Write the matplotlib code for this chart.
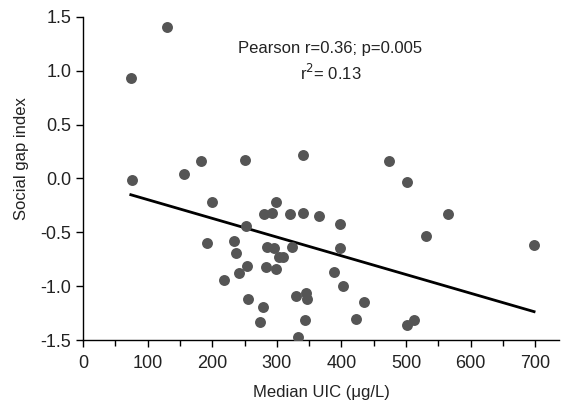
import matplotlib.pyplot as plt
from matplotlib.ticker import MultipleLocator

plt.rcParams['font.family'] = ['Liberation Sans', 'DejaVu Sans']

# median UIC (ug/L) per country and social gap index
uic = [130, 74, 76, 156, 182, 251, 341,
       199, 299, 280, 293, 321, 340, 365, 398, 252, 192, 233, 237, 285,
       295, 324, 398, 303, 310, 254, 241, 283, 298, 218, 388, 403, 255,
       330, 345, 346, 435, 279, 274, 344, 422, 333,
       473, 501, 565, 531, 698, 502, 512]
gap = [1.41, 0.93, -0.01, 0.04, 0.16, 0.17, 0.22,
       -0.22, -0.22, -0.33, -0.32, -0.33, -0.32, -0.35, -0.42, -0.44, -0.60, -0.58, -0.69, -0.64,
       -0.65, -0.64, -0.65, -0.73, -0.73, -0.81, -0.88, -0.82, -0.84, -0.94, -0.87, -1.00, -1.12,
       -1.09, -1.06, -1.12, -1.15, -1.19, -1.33, -1.31, -1.30, -1.47,
       0.16, -0.03, -0.33, -0.53, -0.62, -1.36, -1.31]

# fitted regression line
slope = -0.001739
intercept = -0.0226

fig = plt.figure(figsize=(5.63, 4.01), dpi=100)
ax = fig.add_axes([0.1474, 0.152, 0.846, 0.806])

ax.scatter(uic, gap, s=62, color='#555555', zorder=3, linewidths=0)
x0, x1 = min(uic), max(uic)
ax.plot([x0, x1], [intercept + slope * x0, intercept + slope * x1],
        color='black', lw=2, zorder=2)

ax.set_xlim(0, 737)
ax.set_ylim(-1.5, 1.5)
ax.xaxis.set_major_locator(MultipleLocator(100))
ax.xaxis.set_minor_locator(MultipleLocator(50))
ax.yaxis.set_major_locator(MultipleLocator(0.5))
ax.set_yticklabels([f"{v:.1f}" for v in ax.get_yticks()])
ax.tick_params(axis='both', labelsize=13, direction='out', length=5, width=1,
               labelcolor='#222222')
ax.tick_params(axis='x', pad=6)
ax.tick_params(axis='x', which='minor', length=4, width=1)
for s in ['top', 'right']:
    ax.spines[s].set_visible(False)
for s in ['left', 'bottom']:
    ax.spines[s].set_linewidth(1)

ax.set_xlabel("Median UIC (μg/L)", fontsize=12, color='#222222', labelpad=9)
ax.set_ylabel("Social gap index", fontsize=12, color='#222222', labelpad=8,
              y=0.56)

ax.text(383, 1.21, "Pearson r=0.36; p=0.005", ha='center', va='center',
        fontsize=12, color='#222222')
ax.text(383, 0.98, "r$^2$= 0.13", ha='center', va='center', fontsize=12,
        color='#222222')

fig.savefig("out.png", dpi=100)
